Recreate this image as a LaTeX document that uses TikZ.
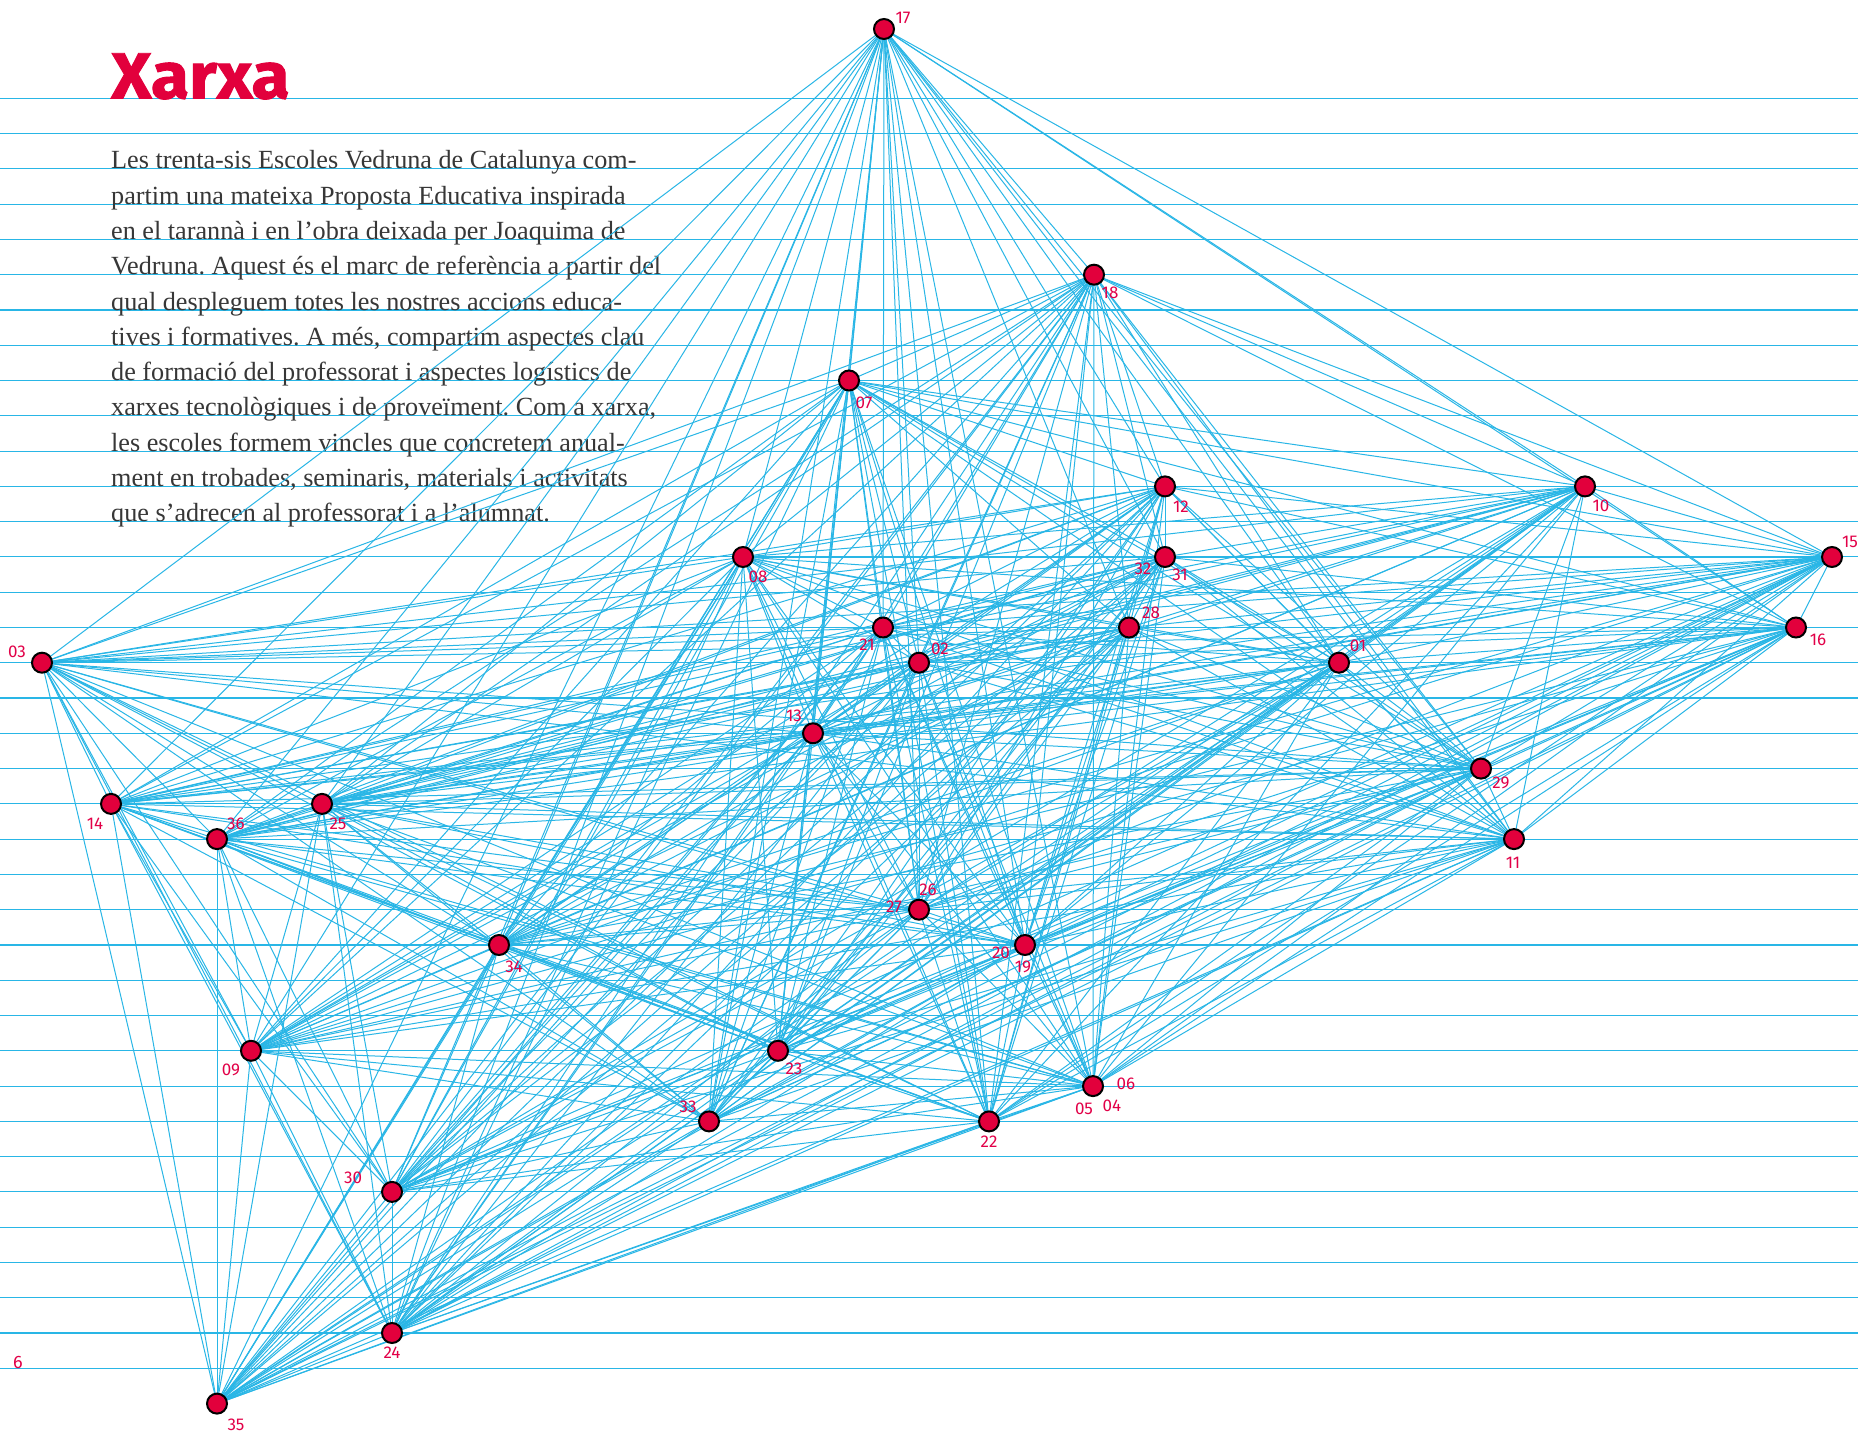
\documentclass[tikz,border=0pt]{standalone}
\usepackage{fontspec}
\setmainfont{Liberation Serif}
\newfontfamily\bodyfont[FakeStretch=1.0]{Liberation Serif}
\newfontfamily\labfont{Fira Sans}
\newfontfamily\titlefont[BoldFeatures={FakeBold=1.5,FakeStretch=1.07}]{Fira Sans}
\definecolor{netblue}{RGB}{41,182,230}
\definecolor{vred}{RGB}{226,0,60}
\definecolor{labred}{RGB}{226,0,72}
\definecolor{txtgray}{RGB}{55,55,55}
\pgfdeclarelayer{bg}
\pgfdeclarelayer{edges}
\pgfsetlayers{bg,edges,main}
\tikzset{
  hline/.style={draw=netblue, line width=1.1pt},
  edge/.style={draw=netblue, line width=1pt},
  school/.style={circle, fill=vred, draw=black, line width=2pt, minimum size=20pt, inner sep=0pt},
  lab/.style={font=\labfont\fontsize{17}{17}\selectfont, text=labred, inner sep=0pt},
  bodyline/.style={anchor=base west, inner sep=0pt, font=\bodyfont\fontsize{26.2}{30}\selectfont\frenchspacing, text=txtgray}
}
\begin{document}
\frenchspacing
\begin{tikzpicture}[x=1pt,y=-1pt]
\useasboundingbox (0,0) rectangle (1858,1434);

% schools
\node[school] (n17) at (884,29) {};
\node[school] (n18) at (1094,274.7) {};
\node[school] (n07) at (849,380.5) {};
\node[school] (n12) at (1165,486.4) {};
\node[school] (n10) at (1585,486.4) {};
\node[school] (n08) at (743,557) {};
\node[school] (n31) at (1165,557) {};
\node[school] (n15) at (1832,557) {};
\node[school] (n21) at (883,627.5) {};
\node[school] (n28) at (1129,627.5) {};
\node[school] (n16) at (1796,627.5) {};
\node[school] (n02) at (919,662.7) {};
\node[school] (n01) at (1339,662.7) {};
\node[school] (n03) at (42,662.7) {};
\node[school] (n13) at (813,733.3) {};
\node[school] (n29) at (1481,768.6) {};
\node[school] (n14) at (111,803.9) {};
\node[school] (n25) at (322,803.9) {};
\node[school] (n36) at (217,839.1) {};
\node[school] (n11) at (1514,839.1) {};
\node[school] (n26) at (919,909.7) {};
\node[school] (n19) at (1025,945) {};
\node[school] (n34) at (499,945) {};
\node[school] (n09) at (251,1050.8) {};
\node[school] (n23) at (778,1050.8) {};
\node[school] (n04) at (1093,1086.1) {};
\node[school] (n33) at (709,1121.4) {};
\node[school] (n22) at (989,1121.4) {};
\node[school] (n30) at (392,1191.9) {};
\node[school] (n24) at (392,1333) {};
\node[school] (n35) at (217,1403.6) {};

\begin{pgfonlayer}{bg}
  \fill[white] (0,0) rectangle (1858,1434);
  \foreach \k in {0,...,36}
    \draw[hline] (0,{98.3+35.278*\k}) -- (1858,{98.3+35.278*\k});
  \node[anchor=base west, inner sep=0pt, font=\titlefont\bfseries\fontsize{65}{65}\selectfont, text=vred] (title) at (111,98.3) {Xarxa};
  \node[bodyline] (t1) at (111,168.9) {Les trenta-sis Escoles Vedruna de Catalunya com-};
  \node[bodyline] (t2) at (111,204.2) {partim una mateixa Proposta Educativa inspirada};
  \node[bodyline] (t3) at (111,239.5) {en el tarannà i en l’obra deixada per Joaquima de};
  \node[bodyline] (t4) at (111,274.7) {Vedruna. Aquest és el marc de referència a partir del};
  \node[bodyline] (t5) at (111,310.0) {qual despleguem totes les nostres accions educa-};
  \node[bodyline] (t6) at (111,345.3) {tives i formatives. A més, compartim aspectes clau};
  \node[bodyline] (t7) at (111,380.6) {de formació del professorat i aspectes logístics de};
  \node[bodyline] (t8) at (111,415.8) {xarxes tecnològiques i de proveïment. Com a xarxa,};
  \node[bodyline] (t9) at (111,451.1) {les escoles formem vincles que concretem anual-};
  \node[bodyline] (t10) at (111,486.4) {ment en trobades, seminaris, materials i activitats};
  \node[bodyline] (t11) at (111,521.6) {que s’adrecen al professorat i a l’alumnat.};
  \node[anchor=base west, inner sep=0pt, font=\labfont\fontsize{18}{18}\selectfont, text=labred] (page) at (13,1368.3) {6};
\end{pgfonlayer}

\def\schoollist{n17,n18,n07,n12,n10,n08,n31,n15,n21,n28,n16,n02,n01,n03,n13,n29,n14,n25,n36,n11,n26,n19,n34,n09,n23,n04,n33,n22,n30,n24,n35}
\begin{pgfonlayer}{edges}
  \foreach \a [count=\i] in \schoollist {
    \foreach \b [count=\j] in \schoollist {
      \ifnum\j>\i
        \draw[edge] (\a.center) -- (\b.center);
      \fi
    }
  }
\end{pgfonlayer}

% labels
\node[lab] (l17) at (903,18) {17};
\node[lab] (l18) at (1110,293) {18};
\node[lab] (l07) at (864,403) {07};
\node[lab] (l12) at (1181,507) {12};
\node[lab] (l10) at (1601,506) {10};
\node[lab] (l08) at (758,577) {08};
\node[lab] (l31) at (1180,575) {31};
\node[lab] (l32) at (1143,569) {32};
\node[lab] (l15) at (1850,542) {15};
\node[lab] (l21) at (867,645) {21};
\node[lab] (l28) at (1151,613) {28};
\node[lab] (l16) at (1818,640) {16};
\node[lab] (l02) at (940,649) {02};
\node[lab] (l01) at (1358,646) {01};
\node[lab] (l03) at (17,652) {03};
\node[lab] (l13) at (794,716) {13};
\node[lab] (l29) at (1501,783) {29};
\node[lab] (l14) at (95,824) {14};
\node[lab] (l25) at (338,824) {25};
\node[lab] (l36) at (236,824) {36};
\node[lab] (l11) at (1513,863) {11};
\node[lab] (l26) at (928,890) {26};
\node[lab] (l27) at (894,907) {27};
\node[lab] (l20) at (1001,953) {20};
\node[lab] (l19) at (1023,967) {19};
\node[lab] (l34) at (514,967) {34};
\node[lab] (l09) at (231,1070) {09};
\node[lab] (l23) at (794,1069) {23};
\node[lab] (l06) at (1126,1084) {06};
\node[lab] (l05) at (1084,1109) {05};
\node[lab] (l04) at (1112,1106) {04};
\node[lab] (l33) at (688,1107) {33};
\node[lab] (l22) at (989,1142) {22};
\node[lab] (l30) at (353,1178) {30};
\node[lab] (l24) at (392,1353) {24};
\node[lab] (l35) at (236,1425) {35};
\end{tikzpicture}
\end{document}
